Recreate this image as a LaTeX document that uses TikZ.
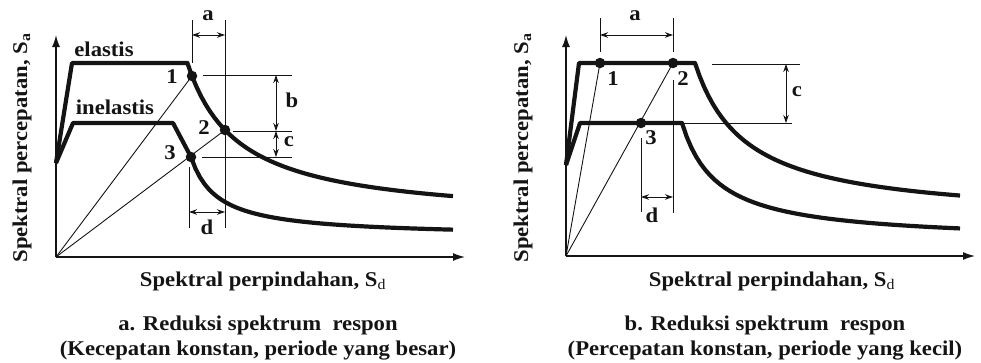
\documentclass[tikz,border=0pt]{standalone}
\usepackage{fontspec}
\setmainfont{Liberation Serif}[FakeStretch=1.08]
\usepackage{tikz}
\usetikzlibrary{arrows.meta, positioning, calc}
\definecolor{colInk}{HTML}{141414}
\tikzset{
  axis/.style={
    -{Latex[length=12pt,width=8pt]},
    line width=1.4pt, draw=colInk
  },
  spec/.style={line width=4.2pt, draw=colInk, line join=round},
  guide/.style={line width=0.9pt, draw=colInk},
  dimarr/.style={
    {Stealth[length=8pt,width=5.5pt]}-{Stealth[length=8pt,width=5.5pt]},
    line width=0.9pt, draw=colInk
  },
  dot/.style={circle, fill=colInk, inner sep=0pt, minimum size=10.5pt},
  lbl/.style={font=\bfseries\fontsize{21}{25}\selectfont,
    text=colInk, inner sep=0pt}
}

\begin{document}
\begin{tikzpicture}[x=1pt, y=-1pt]
  \useasboundingbox (0,0) rectangle (981,362);

  % ---- a. kecepatan konstan ----
  \coordinate (oA) at (56,257);
  \coordinate (yA) at (56,35);
  \coordinate (xA) at (465,257);
  \draw[axis] (oA) -- (yA);
  \draw[axis] (oA) -- (xA);
  \draw[spec] (56,163) -- (72,63) -- (187.5,63)
    -- plot[domain=187.5:453, samples=60] (\x,{257-35-8212/(\x-135.75)});
  \draw[spec] (56,163) -- (73,123) -- (173,123) -- (191,157)
    -- plot[domain=191:453, samples=60] (\x,{257-20-2120/(\x-164.5)});
  \node[dot] (p1) at (192,76) {};
  \node[dot] (p2) at (225,130) {};
  \node[dot] (p3) at (191,157) {};
  \draw[guide] (oA) -- (p1.center);
  \draw[guide] (oA) -- (p2.center);
  \draw[guide] (192,20) -- (192,63);
  \draw[guide] (225,20) -- (225,228);
  \draw[guide] (203,75) -- (292,75);
  \draw[guide] (233,131) -- (292,131);
  \draw[guide] (202,157) -- (292,157);
  \draw[guide] (189,167) -- (189,228);
  \coordinate (aA1) at (192,35);  \coordinate (aA2) at (225,35);
  \coordinate (bA1) at (276,75);  \coordinate (bA2) at (276,131);
  \coordinate (cA2) at (276,157);
  \coordinate (dA1) at (189,212); \coordinate (dA2) at (225,212);
  \draw[dimarr] (aA1) -- (aA2);
  \draw[dimarr] (bA1) -- (bA2);
  \draw[dimarr] (bA2) -- (cA2);
  \draw[dimarr] (dA1) -- (dA2);
  \node[lbl] (laA) at (208,16) {a};
  \node[lbl] (lbA) at (292,100) {b};
  \node[lbl] (lcA) at (289,142) {c};
  \node[lbl] (ldA) at (207,227) {d};
  \node[lbl] (n1) at (172,77) {1};
  \node[lbl] (n2) at (204,128) {2};
  \node[lbl] (n3) at (170,153) {3};
  \node[lbl] (el) at (104,49) {elastis};
  \node[lbl] (inel) at (115,107) {inelastis};
  \node[lbl, rotate=90] (ylA) at (22,148) {Spektral percepatan, S\textsubscript{a}};
  \node[lbl] (xlA) at (263,281) {Spektral perpindahan, S\textsubscript{\mdseries d}};
  \node[lbl, align=center] (capA) at (258,338)
    {a. Reduksi spektrum\ \ respon\\(Kecepatan konstan, periode yang besar)};

  % ---- b. percepatan konstan ----
  \coordinate (oB) at (566,256);
  \coordinate (yB) at (566,35);
  \coordinate (xB) at (975,256);
  \draw[axis] (oB) -- (yB);
  \draw[axis] (oB) -- (xB);
  \draw[spec] (566,165) -- (579,63) -- (695,63)
    -- plot[domain=695:960, samples=60] (\x,{256-35-8042/(\x-644.1)});
  \draw[spec] (566,165) -- (580,123) -- (682,123)
    -- plot[domain=682:960, samples=60] (\x,{256-14-4260/(\x-646.2)});
  \node[dot] (p4) at (600,63) {};
  \node[dot] (p5) at (673,63) {};
  \node[dot] (p6) at (641,123) {};
  \draw[guide] (oB) -- (p4.center);
  \draw[guide] (oB) -- (p5.center);
  \draw[guide] (600,18) -- (600,52);
  \draw[guide] (673,18) -- (673,52);
  \draw[guide] (673,80) -- (673,213);
  \draw[guide] (641,138) -- (641,212);
  \draw[guide] (712,64) -- (800,64);
  \draw[guide] (682,123) -- (792,123);
  \coordinate (aB1) at (600,35);  \coordinate (aB2) at (673,35);
  \coordinate (cB1) at (786,64);  \coordinate (cB2) at (786,123);
  \coordinate (dB1) at (641,197); \coordinate (dB2) at (673,197);
  \draw[dimarr] (aB1) -- (aB2);
  \draw[dimarr] (cB1) -- (cB2);
  \draw[dimarr] (dB1) -- (dB2);
  \node[lbl] (laB) at (635,16) {a};
  \node[lbl] (lcB) at (797,92) {c};
  \node[lbl] (ldB) at (652,215) {d};
  \node[lbl] (n4) at (613,79) {1};
  \node[lbl] (n5) at (683,79) {2};
  \node[lbl] (n6) at (651,138) {3};
  \node[lbl, rotate=90] (ylB) at (523,148) {Spektral percepatan, S\textsubscript{a}};
  \node[lbl] (xlB) at (772,281) {Spektral perpindahan, S\textsubscript{\mdseries d}};
  \node[lbl, align=center] (capB) at (765,338)
    {b. Reduksi\ spektrum\ \ respon\\(Percepatan konstan, periode yang kecil)};
\end{tikzpicture}
\end{document}
